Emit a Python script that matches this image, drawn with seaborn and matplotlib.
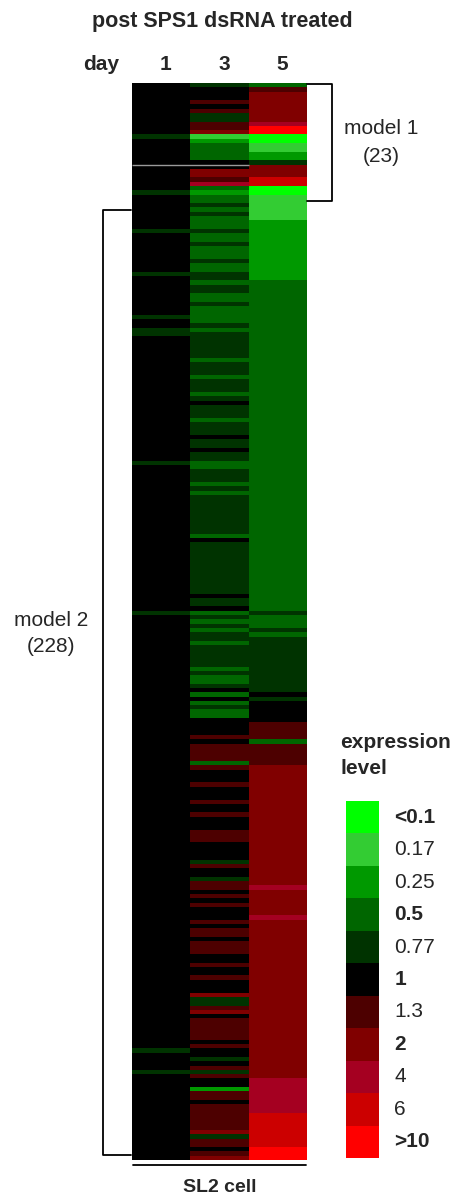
import numpy as np
import pandas as pd
import seaborn as sns
import matplotlib.pyplot as plt
import matplotlib.transforms as mtransforms
from matplotlib.colors import ListedColormap
from matplotlib.lines import Line2D

# expression level classes (fold change vs. control)
level_labels = ["<0.1", "0.17", "0.25", "0.5", "0.77", "1", "1.3", "2", "4", "6", ">10"]
level_colors = ["#00ff00", "#33cc33", "#009900", "#006600", "#003300", "#000000",
                "#4d0000", "#800000", "#a50021", "#cc0000", "#ff0000"]
bold_levels = ["<0.1", "0.5", "1", "2", ">10"]

days = ["1", "3", "5"]
model_names = ["model 1", "model 2"]
model_sizes = [23, 228]

# runs of (level index, number of genes), top to bottom
day1_runs = [(5, 12), (4, 1), (5, 12), (4, 1), (5, 8), (4, 1), (5, 9), (4, 1), (5, 9), (4, 1),
             (5, 2), (4, 2), (5, 29), (4, 1), (5, 34), (4, 1), (5, 101), (4, 1), (5, 4), (4, 1),
             (5, 20)]
day3_runs = [(4, 1), (5, 3), (6, 1), (5, 1), (6, 1), (4, 2), (6, 2), (7, 1), (1, 1), (2, 1),
             (3, 4), (5, 2), (7, 2), (6, 1), (8, 1), (3, 1), (2, 1), (3, 2), (4, 1), (3, 1),
             (4, 1), (3, 3), (4, 1), (3, 2), (4, 1), (3, 3), (4, 1), (3, 2), (4, 2), (3, 1),
             (4, 2), (3, 2), (4, 1), (3, 4), (4, 1), (3, 1), (4, 6), (3, 1), (4, 3), (3, 1),
             (4, 3), (3, 1), (4, 1), (5, 1), (4, 3), (3, 1), (4, 3), (5, 1), (4, 2), (5, 1),
             (4, 2), (3, 2), (4, 3), (3, 1), (4, 1), (3, 1), (4, 9), (3, 1), (5, 1), (4, 12),
             (5, 1), (4, 2), (5, 1), (3, 1), (4, 1), (3, 1), (4, 1), (3, 1), (4, 2), (3, 1),
             (4, 5), (3, 1), (4, 1), (3, 2), (4, 1), (5, 1), (3, 1), (5, 1), (3, 1), (4, 1),
             (3, 2), (5, 4), (6, 1), (5, 1), (6, 4), (3, 1), (6, 1), (5, 3), (6, 1), (5, 3),
             (6, 1), (5, 2), (6, 1), (5, 3), (6, 3), (5, 4), (4, 1), (6, 1), (5, 2), (4, 1),
             (6, 2), (5, 1), (6, 1), (5, 1), (6, 1), (5, 3), (6, 1), (5, 1), (6, 2), (5, 1),
             (6, 3), (5, 2), (6, 1), (5, 2), (6, 1), (5, 3), (7, 1), (4, 2), (6, 1), (7, 1),
             (5, 1), (6, 5), (5, 1), (6, 1), (5, 2), (4, 1), (5, 1), (6, 1), (4, 1), (6, 1),
             (5, 2), (2, 1), (6, 2), (5, 1), (6, 6), (7, 1), (4, 1), (6, 2), (5, 1), (6, 1),
             (7, 1)]
day5_runs = [(3, 1), (6, 1), (7, 7), (8, 1), (10, 2), (0, 2), (1, 2), (2, 2), (4, 1), (7, 3),
             (9, 2), (0, 2), (1, 6), (2, 14), (3, 77), (4, 1), (3, 3), (4, 1), (3, 1), (4, 13),
             (5, 1), (4, 1), (5, 5), (6, 4), (3, 1), (6, 5), (7, 28), (8, 1), (7, 6), (8, 1),
             (7, 37), (8, 8), (9, 8), (10, 3)]


def expand(runs):
    return np.concatenate([np.full(n, lvl) for lvl, n in runs])


expr = pd.DataFrame({d: expand(r) for d, r in zip(days, [day1_runs, day3_runs, day5_runs])})

sns.set_theme(style="white")
plt.rcParams["font.family"] = ["Liberation Sans", "DejaVu Sans"]

W, H = 458, 1203
fig = plt.figure(figsize=(W / 100, H / 100), dpi=100)
cmap = ListedColormap(level_colors)
nlev = len(level_labels)


def fx(px):
    return px / W


def fy(py):
    return 1 - py / H


# main heatmap
ax = fig.add_axes([fx(131.5), fy(1160), fx(175.5), 1077 / H])
sns.heatmap(expr, cmap=cmap, vmin=-0.5, vmax=nlev - 0.5, cbar=False,
            xticklabels=False, yticklabels=False, ax=ax)
ax.hlines(19, 0, 2, color="#9a9a9a", lw=1)

# headers
fig.text(fx(222), fy(22), "post SPS1 dsRNA treated", ha="center", va="center",
         fontsize=15.5, fontweight="bold")
fig.text(fx(101), fy(65), "day", ha="center", va="center", fontsize=15, fontweight="bold")
top = mtransforms.blended_transform_factory(ax.transData, fig.transFigure)
for i, d in enumerate(days):
    ax.text(i + 0.58, fy(65), d, transform=top, ha="center", va="center",
            fontsize=15, fontweight="bold")

# model brackets
kw = dict(color="black", lw=1.3, transform=fig.transFigure)
fig.add_artist(Line2D([fx(307), fx(332), fx(332), fx(307)],
                      [fy(84), fy(84), fy(201), fy(201)], **kw))
fig.add_artist(Line2D([fx(131), fx(103), fx(103), fx(131)],
                      [fy(210), fy(210), fy(1155), fy(1155)], **kw))
fig.text(fx(381), fy(129), model_names[0], ha="center", va="center", fontsize=15)
fig.text(fx(381), fy(156), f"({model_sizes[0]})", ha="center", va="center", fontsize=15)
fig.text(fx(51), fy(620), model_names[1], ha="center", va="center", fontsize=15)
fig.text(fx(51), fy(646), f"({model_sizes[1]})", ha="center", va="center", fontsize=15)

# bottom label
fig.add_artist(Line2D([fx(133), fx(306)], [fy(1165), fy(1165)], **kw))
fig.text(fx(220), fy(1188), "SL2 cell", ha="center", va="center", fontsize=14,
         fontweight="bold")

# legend
fig.text(fx(340), fy(742), "expression", ha="left", va="center", fontsize=15,
         fontweight="bold")
fig.text(fx(340), fy(769), "level", ha="left", va="center", fontsize=15,
         fontweight="bold")
lax = fig.add_axes([fx(346), fy(1158), fx(33), 357 / H])
sns.heatmap(np.arange(nlev).reshape(-1, 1), cmap=cmap, vmin=-0.5, vmax=nlev - 0.5,
            cbar=False, xticklabels=False, yticklabels=level_labels, ax=lax)
lax.yaxis.tick_right()
lax.tick_params(axis="y", length=0, pad=11, labelsize=15, labelrotation=0)
for t in lax.get_yticklabels():
    t.set_va("center")
    if t.get_text() in bold_levels:
        t.set_fontweight("bold")

fig.savefig("out.png", dpi=100)
